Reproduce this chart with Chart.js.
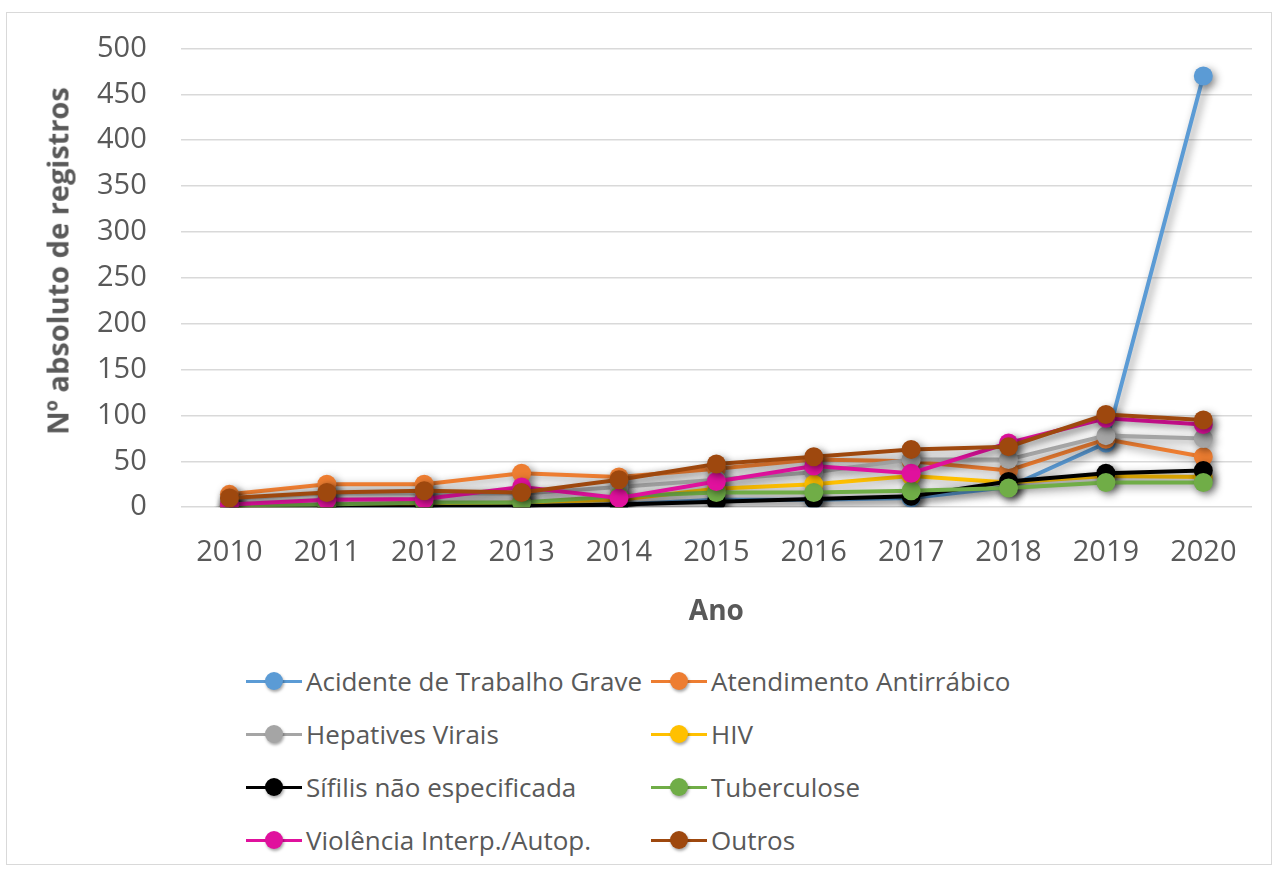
<!DOCTYPE html>
<html>
<head>
<meta charset="utf-8">
<script src="https://cdn.jsdelivr.net/npm/chart.js@4"></script>
<style>
  html, body { margin: 0; padding: 0; background: #fff; }
  body { width: 1280px; height: 870px; position: relative; overflow: hidden; font-family: "Open Sans", sans-serif; }
  #frame { position: absolute; left: 6px; top: 12px; width: 1266px; height: 853px; border: 1px solid #d9d9d9; box-sizing: border-box; }
  #wrap { position: absolute; left: 0; top: 0; width: 1264px; height: 640px; }
  #ytitle { position: absolute; left: 50px; top: 248px; width: 0; height: 0; }
  #ytitle span { position: absolute; left: 0; top: 0; transform: translate(-50%, -50%) rotate(-90deg);
    font-size: 29px; font-weight: bold; color: #595959; white-space: nowrap; line-height: 1; }
  #legend { position: absolute; left: 239px; top: 650px; display: grid; grid-template-columns: 405px 400px; row-gap: 17px; }
  .item { display: flex; align-items: center; height: 36px; font-size: 26px; color: #595959; white-space: nowrap; }
  .mk { position: relative; width: 56px; height: 20px; margin-right: 4px; flex: none; }
  .mk .ln { position: absolute; left: 0; right: 0; top: 8.5px; height: 3px; }
  .mk .dt { position: absolute; left: 19px; top: 1px; width: 18px; height: 18px; border-radius: 50%; box-shadow: 1px 2px 3px rgba(0,0,0,0.35); }
</style>
</head>
<body>
<div id="frame">
  <div id="wrap"><canvas id="chart"></canvas></div>
  <div id="ytitle"><span>Nº absoluto de registros</span></div>
  <div id="legend"></div>
</div>
<script>
// Data
const years = ['2010', '2011', '2012', '2013', '2014', '2015', '2016', '2017', '2018', '2019', '2020'];

const acidente    = [1, 1, 0, 2, 3, 8, 8, 10, 22, 70, 470];
const antirrabico = [14, 25, 25, 37, 33, 42, 52, 50, 40, 74, 55];
const hepatites   = [9, 15, 15, 15, 22, 30, 38, 52, 52, 78, 75];
const hiv         = [1, 2, 3, 5, 8, 20, 25, 34, 27, 34, 33];
const sifilis     = [0, 0, 0, 1, 3, 6, 9, 12, 28, 37, 40];
const tuberculose = [2, 3, 5, 5, 12, 16, 16, 18, 21, 27, 27];
const violencia   = [3, 8, 9, 22, 10, 28, 45, 37, 70, 97, 90];
const outros      = [10, 16, 18, 16, 30, 47, 55, 63, 66, 101, 95];

const seriesNames = ['Acidente de Trabalho Grave', 'Atendimento Antirrábico', 'Hepatives Virais', 'HIV',
  'Sífilis não especificada', 'Tuberculose', 'Violência Interp./Autop.', 'Outros'];
const seriesData = [acidente, antirrabico, hepatites, hiv, sifilis, tuberculose, violencia, outros];
const seriesColors = ['#5B9BD5', '#ED7D31', '#A5A5A5', '#FFC000', '#000000', '#70AD47', '#E0119D', '#9E480E'];

const yTicks = [0, 50, 100, 150, 200, 250, 300, 350, 400, 450, 500];

const textColor = '#595959';

// soft shadow behind lines and markers, like the original
const shadowPlugin = {
  id: 'shadow',
  beforeDatasetsDraw(chart) {
    const ctx = chart.ctx;
    ctx.save();
    ctx.shadowColor = 'rgba(0,0,0,0.45)';
    ctx.shadowBlur = 8;
    ctx.shadowOffsetX = 3;
    ctx.shadowOffsetY = 3;
  },
  afterDatasetsDraw(chart) {
    chart.ctx.restore();
  }
};

const datasets = seriesNames.map((name, i) => ({
  label: name,
  data: seriesData[i],
  borderColor: seriesColors[i],
  backgroundColor: seriesColors[i],
  borderWidth: 4,
  pointRadius: 9.5,
  pointBorderWidth: 0,
  pointBackgroundColor: seriesColors[i],
  tension: 0,
  order: seriesNames.length - i  // last series on top, as in Excel
}));

new Chart(document.getElementById('chart'), {
  type: 'line',
  data: { labels: years, datasets: datasets },
  options: {
    responsive: true,
    maintainAspectRatio: false,
    animation: false,
    layout: { padding: { left: 72, right: 19, top: 0, bottom: 27 } },
    plugins: {
      legend: { display: false },
      tooltip: { enabled: false }
    },
    scales: {
      x: {
        offset: true,
        grid: { display: false, drawTicks: false },
        border: { display: false },
        ticks: { color: textColor, font: { family: 'Open Sans', size: 29 }, padding: 28 },
        title: {
          display: true, text: 'Ano', color: textColor,
          font: { family: 'Open Sans', size: 28, weight: 'bold', lineHeight: 1 }, padding: { top: 0, bottom: 0 }
        }
      },
      y: {
        min: 0,
        max: 500,
        afterBuildTicks(axis) { axis.ticks = yTicks.map(v => ({ value: v })); },
        grid: { color: '#d9d9d9', lineWidth: 1.5, drawTicks: true, tickLength: 16, tickColor: 'rgba(0,0,0,0)' },
        border: { display: false },
        ticks: { color: textColor, font: { family: 'Open Sans', size: 29 }, padding: 18 }
      }
    }
  },
  plugins: [shadowPlugin]
});

// two-column legend like the original
const legend = document.getElementById('legend');
seriesNames.forEach((name, i) => {
  const item = document.createElement('div');
  item.className = 'item';
  item.innerHTML = '<span class="mk"><span class="ln" style="background:' + seriesColors[i] + '"></span>' +
    '<span class="dt" style="background:' + seriesColors[i] + '"></span></span>';
  const label = document.createElement('span');
  label.textContent = name;
  item.appendChild(label);
  legend.appendChild(item);
});
</script>
</body>
</html>
